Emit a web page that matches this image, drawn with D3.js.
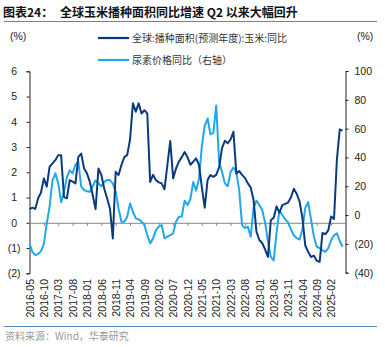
<!DOCTYPE html>
<html>
<head>
<meta charset="utf-8">
<script src="https://cdn.jsdelivr.net/npm/d3@7"></script>
<style>
  body { margin: 0; background: #fff; }
  svg { display: block; font-family: "Liberation Sans", Arial, "Noto Sans CJK SC", sans-serif; }
  .cjk { font-family: "Noto Sans CJK SC", sans-serif; }
</style>
</head>
<body>
<div id="chart"></div>
<script>
let w = 385, h = 347;

// monthly, 2016-05 .. 2025-06
let areaYoY = [0.54, 0.6, 0.55, 0.97, 1.2, 1.76, 1.43, 2.22, 2.35, 2.48,
    2.68, 2.68, 1.03, 0.97, 1.69, 1.63, 1.56, 2.61, 2.74, 2.15,
    1.96, 1.62, 1.1, 0.54, 2.15, 1.9, 1.36, 0.97, 0.57, -0.62,
    2.02, 1.89, 2.29, 2.6, 2.68, 3.3, 4.73, 4.4, 4.73, 4.33,
    4.46, 4.33, 1.62, 1.9, 1.69, 1.6, 1.56, 1.33, 2.29, 3.24,
    1.76, 2.15, 2.42, 2.6, 2.8, 2.6, 2.3, 2.42, 2.55, 2.3,
    1.4, 0.6, 1.7, 1.89, 1.82, 1.9, 2.2, 2.95, 3.25, 3.15,
    3.3, 3.6, 1.95, 2.05, 1.9, 1.78, 1.56, 1.4, 0.9, -0.35,
    -0.68, -0.8, -1.05, -1.35, 0.1, 0.2, 0.65, 0.4, 0.7, 0.75,
    0.8, 1.0, 1.35, 1.15, 0.85, 0.2, -0.9, -1.15, -1.35, -1.3,
    -1.5, -1.55, -0.4, -0.45, -0.3, 0.25, 0.15, 2.5, 3.7, 3.65];

let ureaYoY = [-19.7, -25.5, -27.8, -27, -25, -20, -6, 6, 24, 29,
    22, 9, 16, 26, 31, 29, 35, 37, 19.7, 17.4,
    16.5, 16.2, 20, 24, 22, 20, 23, 24.3, 24.3, 22,
    16.2, 4.6, -4.6, -4.6, -1.2, 8.1, 2.3, -2.3, -3, -4.6,
    -6.9, -13.9, -19.7, -16.2, -10.4, -8.1, -6.9, -16.2, -15, -13.9,
    -12.7, -4.6, -1.2, -1, 10, 7, 11, 23, 17, 25,
    48, 62, 67, 56, 57, 76, 37, 30, 22, 20,
    30, 33, 30, 17, -7, -9, -8, -15, 5, 10,
    7, 3.5, -5, -18, -29, -31.5, -12, 3, 0, -3,
    -5, -10, -14, -16, -17, -10, 5, 9, -3, -15,
    -22, -23, -24.5, -25.5, -23, -17.5, -14, -12.7, -18, -22];

let xTickLabels = ["2016-05", "2016-10", "2017-03", "2017-08", "2018-01", "2018-06",
    "2018-11", "2019-04", "2019-09", "2020-02", "2020-07", "2020-12", "2021-05",
    "2021-10", "2022-03", "2022-08", "2023-01", "2023-06", "2023-11", "2024-04",
    "2024-09", "2025-02"];
let leftTicks = [-2, -1, 0, 1, 2, 3, 4, 5, 6];
let rightTicks = [-40, -20, 0, 20, 40, 60, 80, 100];

let seriesNames = ["全球:播种面积(预测年度):玉米:同比", "尿素价格同比（右轴）"];
let colors = ["#0b3a7e", "#1fa8ea"];

let svg = d3.select("#chart").append("svg")
    .attr("width", w)
    .attr("height", h);

let x = d3.scaleLinear().domain([0, 110]).range([29.5, 345.5]);
let yL = d3.scaleLinear().domain([-2, 6]).range([273.3, 71.3]);
let yR = d3.scaleLinear().domain([-40, 100]).range([272.7, 71]);

let fmt = d => d < 0 ? `(${-d})` : `${d}`;

// title
svg.append("text")
    .attr("class", "cjk")
    .attr("x", 3).attr("y", 17)
    .attr("font-size", 12).attr("font-weight", "bold")
    .attr("fill", "#111")
    .text("图表24：");
svg.append("text")
    .attr("class", "cjk")
    .attr("x", 60).attr("y", 17)
    .attr("font-size", 12).attr("font-weight", "bold")
    .attr("fill", "#111")
    .text("全球玉米播种面积同比增速 Q2 以来大幅回升");
svg.append("line")
    .attr("x1", 4).attr("x2", 377)
    .attr("y1", 21.5).attr("y2", 21.5)
    .attr("stroke", "#5b87bf").attr("stroke-width", 1);

// unit labels
svg.append("text")
    .attr("x", 10).attr("y", 40)
    .attr("font-size", 10.5).attr("fill", "#222")
    .text("(%)");
svg.append("text")
    .attr("x", 357).attr("y", 40)
    .attr("font-size", 10.5).attr("fill", "#222")
    .text("(%)");

// legend
let legend = svg.append("g");
seriesNames.forEach((name, i) => {
    let ly = 38 + i * 22;
    legend.append("line")
        .attr("x1", 98).attr("x2", 129)
        .attr("y1", ly).attr("y2", ly)
        .attr("stroke", colors[i]).attr("stroke-width", 2.2);
    legend.append("text")
        .attr("class", "cjk")
        .attr("x", 132).attr("y", ly + 3.5)
        .attr("font-size", 10).attr("fill", "#333")
        .text(name);
});

// left axis
let gL = svg.append("g")
    .attr("transform", "translate(29.5,0)")
    .call(d3.axisLeft(yL).tickValues(leftTicks).tickSize(3).tickPadding(6).tickFormat(fmt));
gL.select(".domain").attr("stroke", "#222");
gL.selectAll(".tick line").attr("stroke", "#222");
gL.selectAll(".tick text")
    .attr("font-size", 10.5).attr("fill", "#222")
    .attr("font-family", "Liberation Sans, Arial, sans-serif")
    .attr("dx", d => d < 0 ? 0 : -3.5);

// right axis
let gR = svg.append("g")
    .attr("transform", "translate(345.5,0)")
    .call(d3.axisRight(yR).tickValues(rightTicks).tickSize(3).tickPadding(6).tickFormat(fmt));
gR.select(".domain").attr("stroke", "#222");
gR.selectAll(".tick line").attr("stroke", "#222");
gR.selectAll(".tick text")
    .attr("font-size", 10.5).attr("fill", "#222")
    .attr("font-family", "Liberation Sans, Arial, sans-serif");

// zero line with month ticks
let tickIdx = xTickLabels.map((d, i) => i * 5);
let gX = svg.append("g")
    .attr("transform", `translate(0,${yL(0)})`)
    .call(d3.axisBottom(x).tickValues(tickIdx).tickSize(3).tickSizeOuter(0).tickFormat(""));
gX.select(".domain").attr("stroke", "#888");
gX.selectAll(".tick line").attr("stroke", "#888");

// rotated month labels
svg.append("g")
    .selectAll("text")
    .data(xTickLabels)
    .enter()
    .append("text")
    .attr("transform", (d, i) => `translate(${x(i * 5) + 0.5},279) rotate(-90)`)
    .attr("text-anchor", "end")
    .attr("dy", "0.35em")
    .attr("font-size", 10.5)
    .attr("fill", "#222")
    .text(d => d);

// series lines
let lineL = d3.line().x((d, i) => x(i)).y(d => yL(d));
let lineR = d3.line().x((d, i) => x(i)).y(d => yR(d));

svg.append("path")
    .datum(ureaYoY)
    .attr("d", lineR)
    .attr("fill", "none")
    .attr("stroke", colors[1])
    .attr("stroke-width", 2)
    .attr("stroke-linejoin", "round");
svg.append("path")
    .datum(areaYoY)
    .attr("d", lineL)
    .attr("fill", "none")
    .attr("stroke", colors[0])
    .attr("stroke-width", 2)
    .attr("stroke-linejoin", "round");

// footer
svg.append("line")
    .attr("x1", 4).attr("x2", 377)
    .attr("y1", 326.5).attr("y2", 326.5)
    .attr("stroke", "#5b87bf").attr("stroke-width", 1);
svg.append("text")
    .attr("class", "cjk")
    .attr("x", 5).attr("y", 340)
    .attr("font-size", 10).attr("fill", "#999")
    .text("资料来源：Wind，华泰研究");
</script>
</body>
</html>
